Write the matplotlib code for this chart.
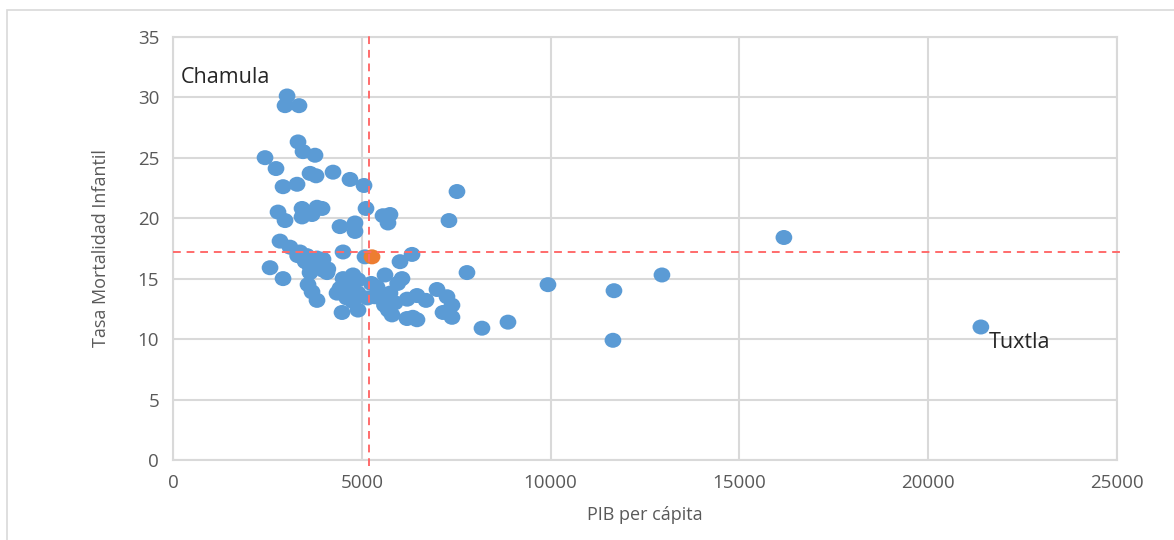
import matplotlib.pyplot as plt
from matplotlib.patches import Rectangle
from matplotlib.path import Path
from matplotlib.transforms import Affine2D

# PIB per capita vs tasa de mortalidad infantil (municipios de Chiapas)
pib = [
    3020, 2966, 3336, 3310, 3442, 3760, 2436, 2727, 3628, 3787,
    4237, 4687, 5058, 2913, 3284, 7520, 2780, 2966, 3416, 3813,
    3946, 3416, 3681, 5111, 4422, 4819, 4819, 5561, 5746, 5693,
    7308, 2833, 3098, 3363, 3548, 3813, 3972, 4502, 5084, 6011,
    6329, 2569, 2913, 3628, 3972, 3575, 3681, 3813, 4343, 4422,
    4687, 4766, 4475, 4899, 3628, 4078, 4766, 4899, 5614, 6064,
    4502, 5402, 5349, 5746, 5879, 5799, 6196, 6461, 6461, 6991,
    7256, 7388, 7150, 7388, 7785, 9930, 8182, 8871, 11678, 11651,
    12949, 16179, 21396, 4900, 5150, 5500, 6200, 6700, 5700, 6350,
    4600, 5250, 5950, 5600, 3300, 3500, 3900, 4100,
]
tmi = [
    30.1, 29.3, 29.3, 26.3, 25.5, 25.2, 25.0, 24.1, 23.7, 23.5,
    23.8, 23.2, 22.7, 22.6, 22.8, 22.2, 20.5, 19.8, 20.8, 20.9,
    20.8, 20.1, 20.3, 20.8, 19.3, 19.6, 18.9, 20.2, 20.3, 19.6,
    19.8, 18.1, 17.6, 17.2, 16.9, 16.7, 16.6, 17.2, 16.8, 16.4,
    17.0, 15.9, 15.0, 16.0, 15.7, 14.5, 13.9, 13.2, 13.8, 14.2,
    14.1, 13.1, 12.2, 12.4, 15.5, 15.5, 15.3, 14.9, 15.3, 15.0,
    15.0, 14.3, 13.5, 13.8, 13.0, 12.0, 11.7, 11.6, 13.6, 14.1,
    13.5, 12.8, 12.2, 11.8, 15.5, 14.5, 10.9, 11.4, 14.0, 9.9,
    15.3, 18.4, 11.0, 13.8, 13.4, 13.4, 13.3, 13.2, 12.4, 11.8,
    13.4, 14.6, 14.6, 12.8, 16.9, 16.4, 16.2, 15.8,
]

# Promedio estatal (punto naranja) y lineas de referencia
promedio_pib = [5270]
promedio_tmi = [16.8]
ref_pib = 5180
ref_tmi = 17.2

# marcador apenas eliptico, como en el original
circ = Path.unit_circle()
elipse = Path(Affine2D().scale(1.07, 0.96).transform(circ.vertices), circ.codes)

fig = plt.figure(figsize=(11.74, 5.40), dpi=100)
ax = fig.add_axes([0.1474, 0.1481, 0.8040, 0.7839])

# Marco exterior del grafico
fig.patches.append(Rectangle((7 / 1174, -0.05), 1.1, 1 - 10 / 540 + 0.05,
                             transform=fig.transFigure, fill=False,
                             edgecolor="#D9D9D9", linewidth=1.2))

ax.scatter(pib, tmi, s=145, marker=elipse, color="#5B9BD5",
           edgecolors="none", zorder=3)
ax.scatter(promedio_pib, promedio_tmi, s=145, marker=elipse, color="#ED7D31",
           edgecolors="none", zorder=4)

ax.plot([ref_pib, ref_pib], [-0.5, 35.3], color="#FF6B6B", linestyle="--",
        linewidth=1.4, dashes=(4, 3), clip_on=False, zorder=5)
ax.plot([0, 25170], [ref_tmi, ref_tmi], color="#FF6B6B", linestyle="--",
        linewidth=1.4, dashes=(4, 3), clip_on=False, zorder=5)

ax.set_xlim(0, 25000)
ax.set_ylim(0, 35)
ax.set_xticks(range(0, 25001, 5000))
ax.set_yticks(range(0, 36, 5))
ax.grid(True, color="#D9D9D9", linewidth=1.5)
ax.set_axisbelow(True)
for side in ["top", "right", "left", "bottom"]:
    ax.spines[side].set_color("#D9D9D9")
    ax.spines[side].set_linewidth(1.5)
ax.tick_params(length=0, labelsize=13.5, labelcolor="#595959", pad=10)
for lab in ax.get_xticklabels() + ax.get_yticklabels():
    lab.set_family("Open Sans")

ax.set_xlabel("PIB per cápita", fontsize=13, color="#595959",
              family="Open Sans", labelpad=10)
ax.set_ylabel("Tasa Mortalidad Infantil", fontsize=13, color="#595959",
              family="Open Sans", labelpad=20)

ax.text(200, 31.6, "Chamula", fontsize=15.5, color="#262626", family="Open Sans",
        va="center", ha="left")
ax.text(21600, 9.7, "Tuxtla", fontsize=15.5, color="#262626", family="Open Sans",
        va="center", ha="left")

fig.savefig("out.png", dpi=100)
